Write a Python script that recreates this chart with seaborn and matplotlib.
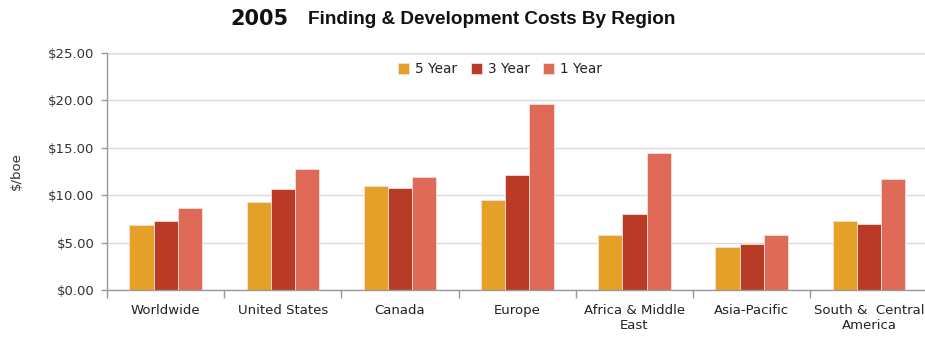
import matplotlib
matplotlib.use("Agg")
import matplotlib.pyplot as plt
import seaborn as sns
import pandas as pd
from matplotlib.ticker import FuncFormatter, FixedLocator

regions = ["Worldwide", "United States", "Canada", "Europe",
           "Africa & Middle\nEast", "Asia-Pacific", "South &  Central\nAmerica"]
series = ["5 Year", "3 Year", "1 Year"]
five_year = [6.87, 9.30, 10.92, 9.54, 5.81, 4.54, 7.32]
three_year = [7.32, 10.70, 10.81, 12.11, 8.03, 4.89, 6.97]
one_year = [8.63, 12.78, 11.87, 19.65, 14.44, 5.81, 11.73]
colors = ["#E5A028", "#B93B26", "#DF6A58"]

df = pd.DataFrame({
    "Region": regions * 3,
    "Period": [s for s in series for _ in regions],
    "Cost": five_year + three_year + one_year,
})

sns.set_theme(style="white")
plt.rcParams["font.family"] = ["DejaVu Sans"]

fig = plt.figure(figsize=(9.25, 3.39), dpi=100)
ax = fig.add_axes([0.1157, 0.1445, 0.887, 0.6992])

sns.barplot(data=df, x="Region", y="Cost", hue="Period", order=regions,
            hue_order=series, palette=colors, width=0.62, gap=0,
            edgecolor="#f3e0d8", linewidth=0.6, saturation=1, ax=ax)

ax.set_ylim(0, 25)
ax.set_xlim(-0.5, len(regions) - 0.5)
ax.set_yticks([0, 5, 10, 15, 20, 25])
ax.yaxis.set_major_formatter(FuncFormatter(lambda v, p: f"${v:.2f}"))
ax.grid(axis="y", color="#dcdcdc", linewidth=1)
ax.set_axisbelow(True)

for side in ["top", "right"]:
    ax.spines[side].set_visible(False)
for side in ["left", "bottom"]:
    ax.spines[side].set_color("#999999")
    ax.spines[side].set_linewidth(1)
ax.axhline(25, color="#999999", linewidth=1, zorder=0)

ax.tick_params(axis="y", which="major", length=4, width=1, color="#999999",
               labelsize=9.5, labelcolor="#333333", left=True, pad=5)
ax.tick_params(axis="x", which="major", length=0, labelsize=9.5,
               labelcolor="#222222", pad=10)
ax.xaxis.set_minor_locator(FixedLocator([i - 0.5 for i in range(len(regions) + 1)]))
ax.tick_params(axis="x", which="minor", length=6, width=1, color="#999999",
               bottom=True)

ax.set_xlabel("")
ax.set_ylabel("$/boe", fontsize=9.5, color="#333333", labelpad=18)

leg = ax.legend(loc="upper center", bbox_to_anchor=(0.479, 1.012), ncol=3,
                frameon=False, fontsize=9.8, handlelength=0.8, handleheight=0.8,
                handletextpad=0.45, columnspacing=1.0)
for t in leg.get_texts():
    t.set_color("#222222")

fig.text(0.249, 0.945, "2005", fontsize=15, fontweight="bold", ha="left",
         va="center", color="#111111")
fig.text(0.333, 0.943, "Finding & Development Costs By Region",
         fontsize=13.6, fontweight="bold", ha="left", va="center",
         color="#111111", family=["Liberation Sans", "DejaVu Sans"])

fig.savefig("out.png", dpi=100)
